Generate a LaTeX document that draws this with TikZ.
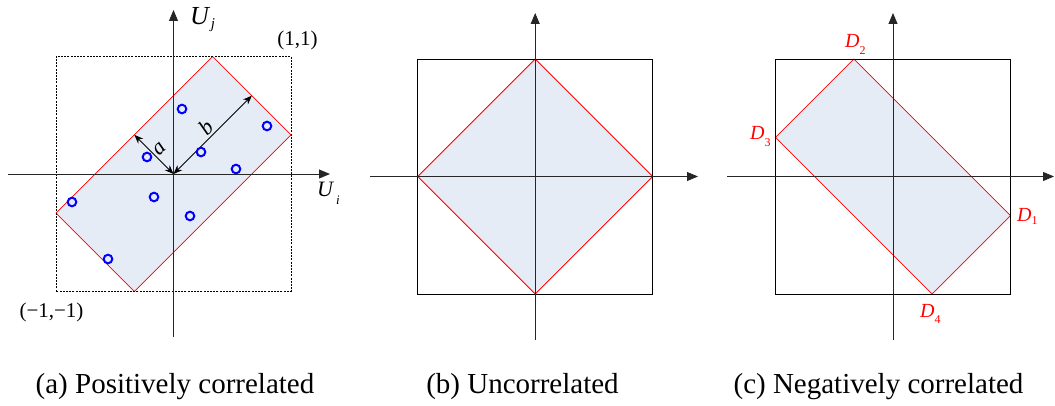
\documentclass[tikz,border=0pt]{standalone}
\usepackage{fontspec}
\setmainfont{LiberationSerif}[Extension=.ttf, UprightFont=*-Regular, ItalicFont=*-Italic, BoldFont=*-Bold, BoldItalicFont=*-BoldItalic]
\usetikzlibrary{arrows.meta}
\definecolor{regfill}{RGB}{230,236,246}
\begin{document}
\begin{tikzpicture}[x=1pt,y=-1pt,
  axis/.style={line width=0.9pt, black!85, -{Triangle[length=11pt,width=9pt]}},
  frame/.style={line width=0.8pt, black},
  dframe/.style={line width=0.8pt, black, dash pattern=on 2pt off 1.2pt},
  region/.style={draw=red, line width=0.8pt, fill=regfill},
  sample/.style={draw=blue, line width=2pt},
  lab/.style={inner sep=0pt, anchor=base, font=\fontsize{21}{25}\selectfont},
  dlab/.style={inner sep=0pt, anchor=base west, text=red, font=\fontsize{20}{24}\selectfont},
  captext/.style={inner sep=0pt, anchor=base, font=\fontsize{29}{34}\selectfont},
  dimlab/.style={inner sep=0pt, font=\fontsize{22}{26}\selectfont\itshape},
  dimarrow/.style={line width=0.8pt, {Stealth[length=9pt,width=7pt]}-{Stealth[length=9pt,width=7pt]}}
]
\useasboundingbox (0,0) rectangle (1055,406);

% ---------- panel (a)
\begin{scope}[shift={(173.5,174)},x=117.5pt,y=117.5pt]
  \draw[region] (1/3,1) -- (1,1/3) -- (-1/3,-1) -- (-1,-1/3) -- cycle;
  \draw[dframe] (-1,-1) rectangle (1,1);
  \coordinate (aO) at (0,0);
  \coordinate (aA) at (-1/3,1/3);
  \coordinate (aB) at (2/3,2/3);
\end{scope}
\draw[axis] (8,174) -- (330,174);
\draw[axis] (173.5,337) -- (173.5,10);
\draw[dimarrow] (aA) -- (aO);
\draw[dimarrow] (aO) -- (aB);
\node[dimlab,rotate=45] (la) at (160,149) {a};
\node[dimlab,rotate=45] (lb) at (206,127) {b};
\foreach \p in {(182,109),(267,126),(147,157),(201,152),(236,169),(72,202),(154,197),(190,216),(108,259)}
  \draw[sample] \p circle (4.3pt);
\node[inner sep=0pt, anchor=base, font=\fontsize{26}{30}\selectfont\itshape] (Uj) at (199.5,25) {U};
\node[inner sep=0pt, anchor=base, font=\fontsize{15}{18}\selectfont\itshape] (Ujs) at (213,29) {j};
\node[inner sep=0pt, anchor=base, font=\fontsize{22}{26}\selectfont\itshape] (Ui) at (325,197) {U};
\node[inner sep=0pt, anchor=base, font=\fontsize{13}{16}\selectfont\itshape] (Uis) at (338,205) {i};
\node[lab] (p11) at (297.5,46) {(1,1)};
\node[lab] (m11) at (51.5,317) {(−1,−1)};

% ---------- panel (b)
\begin{scope}[shift={(535.2,176.5)},x=117.5pt,y=117.5pt]
  \draw[region] (0,1) -- (1,0) -- (0,-1) -- (-1,0) -- cycle;
  \draw[frame] (-1,-1) rectangle (1,1);
\end{scope}
\draw[axis] (370,176.5) -- (698,176.5);
\draw[axis] (535.2,340) -- (535.2,13);

% ---------- panel (c)
\begin{scope}[shift={(893,176.5)},x=117.5pt,y=117.5pt]
  \draw[region] (1,-1/3) -- (-1/3,1) -- (-1,1/3) -- (1/3,-1) -- cycle;
  \draw[frame] (-1,-1) rectangle (1,1);
\end{scope}
\draw[axis] (727,176.5) -- (1054,176.5);
\draw[axis] (893,340) -- (893,13);
\node[dlab] (D2) at (845,48) {\itshape D\raisebox{-7pt}{\upshape\fontsize{12}{14}\selectfont 2}};
\node[dlab] (D3) at (750,140) {\itshape D\raisebox{-7pt}{\upshape\fontsize{12}{14}\selectfont 3}};
\node[dlab] (D1) at (1017,222) {\itshape D\raisebox{-3pt}{\upshape\fontsize{12}{14}\selectfont 1}};
\node[dlab] (D4) at (920,317) {\itshape D\raisebox{-6pt}{\upshape\fontsize{12}{14}\selectfont 4}};

% ---------- captions
\node[captext] (ca) at (175,393) {(a) Positively correlated};
\node[captext] (cb) at (522.5,393) {(b) Uncorrelated};
\node[captext] (cc) at (878.5,393) {(c) Negatively correlated};
\end{tikzpicture}
\end{document}
